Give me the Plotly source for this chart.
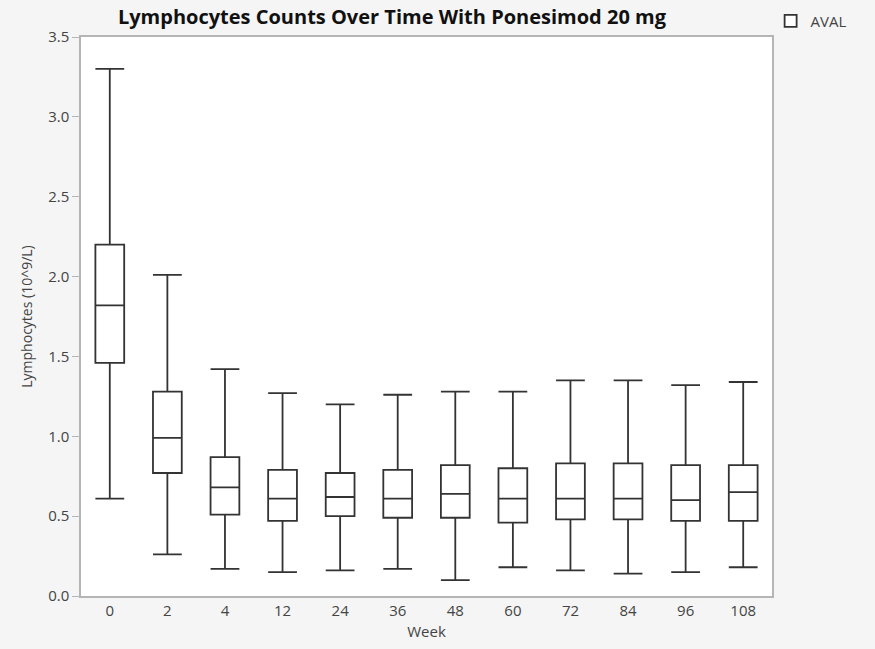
import plotly.graph_objects as go

weeks = ["0", "2", "4", "12", "24", "36", "48", "60", "72", "84", "96", "108"]
lower_whisker = [0.61, 0.26, 0.17, 0.15, 0.16, 0.17, 0.10, 0.18, 0.16, 0.14, 0.15, 0.18]
q1_vals = [1.46, 0.77, 0.51, 0.47, 0.50, 0.49, 0.49, 0.46, 0.48, 0.48, 0.47, 0.47]
median_vals = [1.82, 0.99, 0.68, 0.61, 0.62, 0.61, 0.64, 0.61, 0.61, 0.61, 0.60, 0.65]
q3_vals = [2.20, 1.28, 0.87, 0.79, 0.77, 0.79, 0.82, 0.80, 0.83, 0.83, 0.82, 0.82]
upper_whisker = [3.30, 2.01, 1.42, 1.27, 1.20, 1.26, 1.28, 1.28, 1.35, 1.35, 1.32, 1.34]

fig = go.Figure()
fig.add_trace(go.Box(
    x=weeks,
    q1=q1_vals,
    median=median_vals,
    q3=q3_vals,
    lowerfence=lower_whisker,
    upperfence=upper_whisker,
    name="AVAL",
    fillcolor="white",
    line=dict(color="#333333", width=1.8),
    whiskerwidth=1,
    width=0.5,
    boxpoints=False,
    showlegend=True,
))

fig.update_layout(
    width=875, height=649,
    margin=dict(l=81, r=103, t=37, b=53, autoexpand=False),
    paper_bgcolor="#f5f5f5",
    plot_bgcolor="white",
    font=dict(family="Open Sans, sans-serif", color="#444444", size=15),
    title=dict(
        text="<b>Lymphocytes Counts Over Time With Ponesimod 20 mg</b>",
        xref="paper", x=0.45, xanchor="center", y=0.985, yanchor="top",
        font=dict(size=20, color="#111111", family="Open Sans, sans-serif"),
        automargin=False,
    ),
    legend=dict(x=0.998, xanchor="left", y=1.058, yanchor="top",
                font=dict(size=15, color="#444444"), bgcolor="rgba(0,0,0,0)"),
    xaxis=dict(
        title=dict(text="Week", standoff=8, font=dict(size=15)),
        type="category", automargin=False, range=[-0.5, 11.5],
        showline=True, linecolor="#b5b5b5", linewidth=1.5, mirror=True,
        ticks="", showgrid=False, tickfont=dict(size=15, color="#444444"),
    ),
    yaxis=dict(
        title=dict(text="Lymphocytes (10^9/L)", standoff=12, font=dict(size=14)),
        automargin=False,
        range=[0, 3.5], dtick=0.5, tickformat=".1f",
        showline=True, linecolor="#b5b5b5", linewidth=1.5, mirror=True,
        ticks="outside", ticklen=7, tickcolor="#b5b5b5",
        showgrid=False, zeroline=False, tickfont=dict(size=15, color="#444444"),
    ),
)

fig.write_html(
    "out.html",
    config={"displayModeBar": False},
    post_script="document.body.style.margin='0';document.body.style.background='#f5f5f5';",
)
